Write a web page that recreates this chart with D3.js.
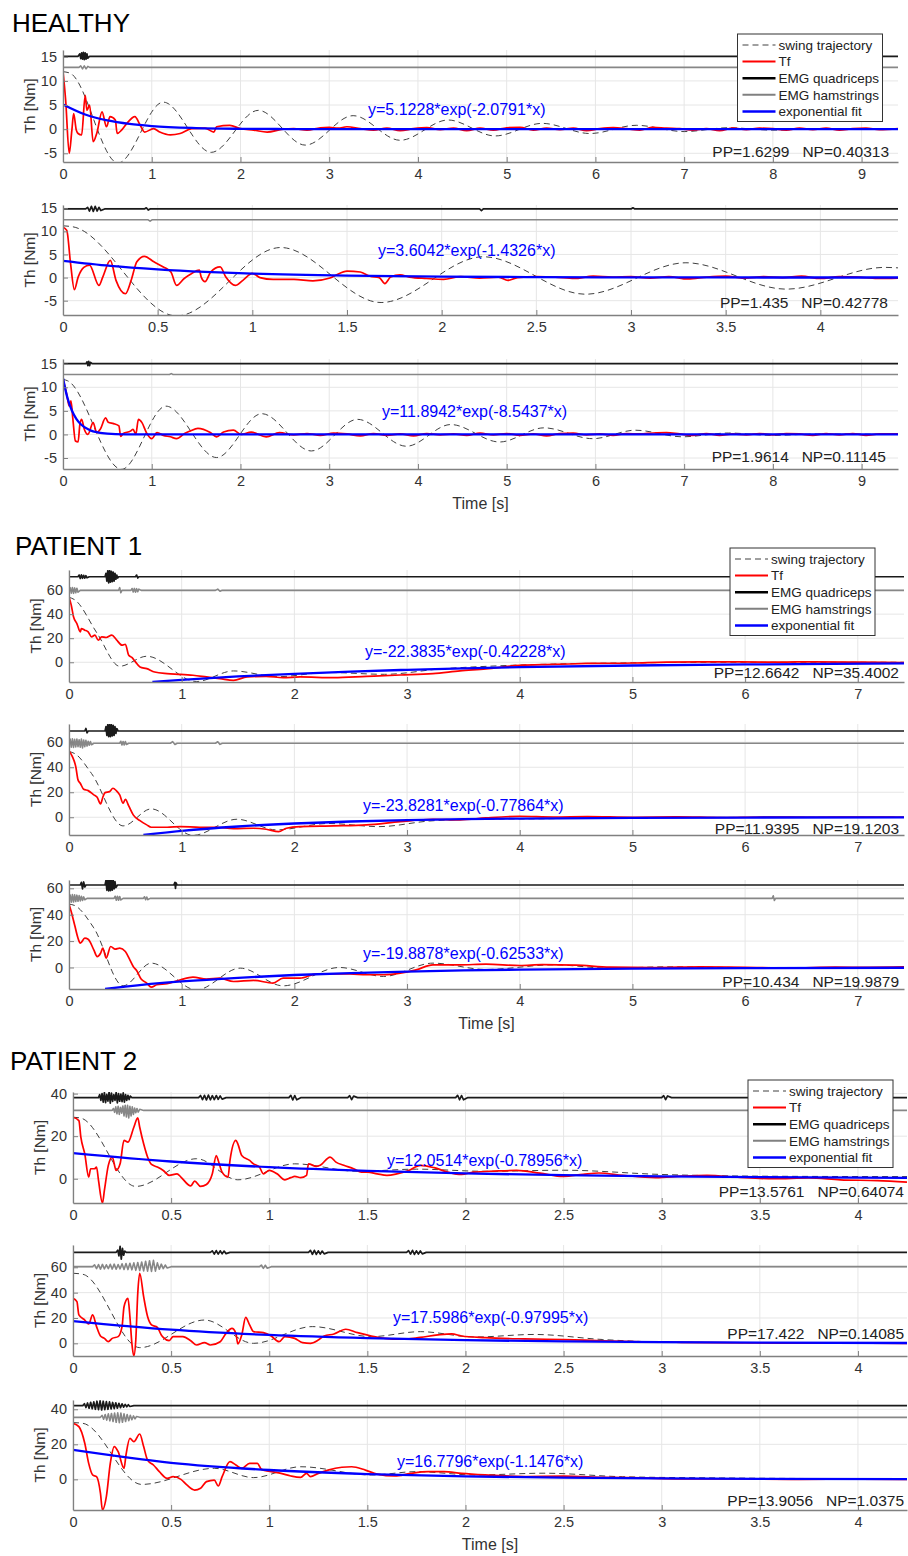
<!DOCTYPE html>
<html>
<head>
<meta charset="utf-8">
<script src="https://cdn.jsdelivr.net/npm/d3@7"></script>
<style>
body { margin: 0; background: #fff; }
text { font-family: "Liberation Sans", Arial, sans-serif; }
</style>
</head>
<body>
<script>
// ---- labels ----
var groupTitles = ["HEALTHY", "PATIENT 1", "PATIENT 2"];
var legendLabels = ["swing trajectory", "Tf", "EMG quadriceps", "EMG hamstrings", "exponential fit"];
var fitLabels = [
  "y=5.1228*exp(-2.0791*x)", "y=3.6042*exp(-1.4326*x)", "y=11.8942*exp(-8.5437*x)",
  "y=-22.3835*exp(-0.42228*x)", "y=-23.8281*exp(-0.77864*x)", "y=-19.8878*exp(-0.62533*x)",
  "y=12.0514*exp(-0.78956*x)", "y=17.5986*exp(-0.97995*x)", "y=16.7796*exp(-1.1476*x)"
];
var ppLabels = [
  ["1.6299", "0.40313"], ["1.435", "0.42778"], ["1.9614", "0.11145"],
  ["12.6642", "35.4002"], ["11.9395", "19.1203"], ["10.434", "19.9879"],
  ["13.5761", "0.64074"], ["17.422", "0.14085"], ["13.9056", "1.0375"]
];

// ---- tick values ----
var xTicksLong = [0, 1, 2, 3, 4, 5, 6, 7, 8, 9];
var xTicksHalf = [0, 0.5, 1, 1.5, 2, 2.5, 3, 3.5, 4];
var xTicksP1 = [0, 1, 2, 3, 4, 5, 6, 7];
var yTicksH = [-5, 0, 5, 10, 15];
var yTicksP1 = [0, 20, 40, 60];
var yTicks40 = [0, 20, 40];
var yTicks60 = [0, 20, 40, 60];

// ---- HEALTHY ----
var swingH1 = [[0,11.9],[0.08,11.6],[0.62,-7.0],[1.13,5.6],[1.67,-4.8],[2.2,3.9],[2.73,-3.3],[3.27,2.8],[3.8,-2.3],[4.34,1.9],[4.87,-1.4],[5.4,1.2],[5.94,-0.9],[6.46,0.8],[7.0,-0.5],[7.5,0.3],[8.0,-0.2],[8.5,0.1],[9.41,0]];
var tfH1 = [[0,12],[0.03,6],[0.07,-5.0],[0.1,-0.2],[0.12,3.2],[0.15,-0.2],[0.17,-0.9],[0.21,-1.2],[0.25,7.0],[0.27,3.9],[0.3,5.0],[0.34,-2.6],[0.38,-0.9],[0.44,3.6],[0.49,0.5],[0.53,2.6],[0.59,1.9],[0.61,-0.9],[0.66,-0.2],[0.72,1.2],[0.81,2.6],[0.87,0.8],[0.92,-0.6],[1.02,0.1],[1.09,-0.6],[1.21,-1.2],[1.32,-0.9],[1.45,0.1],[1.6,0.2],[1.7,-0.6],[1.73,0.5],[1.88,0.8],[2.0,0.1],[2.15,-0.2],[2.3,-0.6],[2.48,0],[2.6,0.1],[2.75,-0.2],[2.9,0.3],[3.0,0.4],[3.1,0.2],[3.2,0.5],[3.35,0.1],[3.5,-0.2],[3.65,0.2],[3.8,-0.3],[3.95,0.1],[4.1,0.3],[4.25,-0.1],[4.4,0.2],[4.55,-0.3],[4.7,0.2],[4.85,-0.2],[5.0,0.3],[5.15,0.4],[5.3,-0.2],[5.45,0.2],[5.6,-0.1],[5.75,0.2],[5.9,-0.3],[6.05,0.1],[6.2,0.3],[6.35,0.1],[6.5,-0.2],[6.65,0.4],[6.8,0.2],[6.95,0.1],[7.1,-0.2],[7.25,0.1],[7.4,-0.3],[7.55,0.2],[7.7,-0.1],[7.85,0.2],[8.0,0.1],[8.15,-0.2],[8.3,0.2],[8.45,-0.1],[8.6,0.2],[8.75,-0.2],[8.9,0.1],[9.05,0.2],[9.2,-0.1],[9.41,0.1]];
var emgQH1 = [[0,15.1],[0.17,15.1],[0.19,15.6],[0.2,14.6],[0.21,15.8],[0.22,14.5],[0.23,15.9],[0.24,14.4],[0.25,15.8],[0.26,14.5],[0.27,15.6],[0.28,14.7],[0.3,15.1],[9.41,15.1]];
var emgHH1 = [[0,12.8],[0.18,12.8],[0.2,13.1],[0.22,12.5],[0.24,13.1],[0.26,12.5],[0.28,13.0],[0.3,12.8],[9.41,12.8]];
var fitH1 = [[0,5.12],[0.25,3.04],[0.5,1.81],[0.75,1.08],[1,0.64],[1.5,0.23],[2,0.08],[2.5,0.03],[3,0.01],[9.41,0]];

var swingH2 = [[0,11.2],[0.05,11.0],[0.6,-8.3],[1.15,6.5],[1.68,-5.4],[2.22,4.5],[2.76,-3.6],[3.29,3.2],[3.82,-2.5],[4.34,2.2],[4.41,2.1]];
var tfH2 = [[0,10.9],[0.02,10.2],[0.04,3.0],[0.06,-2.6],[0.08,0.1],[0.11,2.2],[0.14,2.7],[0.19,-1.7],[0.21,0.1],[0.25,3.7],[0.28,-0.6],[0.33,-3.5],[0.36,-0.6],[0.39,3.4],[0.43,4.6],[0.48,3.4],[0.53,2.3],[0.57,1.2],[0.6,-1.7],[0.64,-0.2],[0.68,0.9],[0.72,1.6],[0.73,0.1],[0.75,-0.9],[0.78,1.2],[0.83,2.3],[0.86,0.1],[0.91,-1.7],[0.95,-0.6],[1.0,0.9],[1.04,0],[1.11,-0.4],[1.22,-0.4],[1.32,-0.7],[1.41,-0.1],[1.44,0.5],[1.5,1.4],[1.57,1.2],[1.62,0.3],[1.67,0],[1.7,-1.3],[1.73,0.1],[1.78,0.6],[1.83,0.1],[1.92,-0.2],[2.01,-0.4],[2.1,0.2],[2.2,-0.1],[2.3,0.1],[2.35,-0.6],[2.4,0],[2.5,0.2],[2.6,0.1],[2.7,-0.2],[2.8,0.3],[2.9,0.1],[3.0,0.2],[3.1,-0.1],[3.2,0.2],[3.3,-0.3],[3.4,0.1],[3.5,0.3],[3.6,-0.1],[3.7,0.2],[3.8,0],[3.9,0.3],[4.0,-0.2],[4.1,0.2],[4.2,0.1],[4.3,-0.2],[4.41,-0.1]];
var emgQH2 = [[0,14.85],[0.12,14.85],[0.13,15.2],[0.14,14.4],[0.15,15.4],[0.16,14.3],[0.17,15.4],[0.18,14.4],[0.19,15.2],[0.2,14.5],[0.22,14.85],[0.43,14.85],[0.44,15.1],[0.45,14.6],[0.46,14.85],[2.2,14.85],[2.21,14.5],[2.22,14.85],[3.0,14.85],[3.01,15.1],[3.02,14.85],[4.41,14.85]];
var emgHH2 = [[0,12.5],[0.45,12.5],[0.46,12.2],[0.47,12.5],[4.41,12.5]];
var fitH2 = [[0,3.6],[0.25,2.52],[0.5,1.77],[0.75,1.23],[1,0.86],[1.5,0.42],[2,0.2],[2.5,0.1],[3,0.05],[3.5,0.02],[4.41,0.01]];

var swingH3 = [[0,11.7],[0.05,11.4],[0.66,-7.4],[1.16,6.0],[1.73,-4.9],[2.24,4.4],[2.8,-3.5],[3.32,3.2],[3.87,-2.5],[4.37,2.1],[4.92,-1.6],[5.42,1.4],[5.97,-0.9],[6.45,0.9],[6.98,-0.5],[7.5,0.3],[8.0,-0.2],[8.5,0.1],[9.41,0]];
var tfH3 = [[0,11.7],[0.045,8.2],[0.07,6.0],[0.09,7.1],[0.11,3.5],[0.14,-1.4],[0.17,-1.6],[0.19,2.1],[0.21,3.2],[0.24,1.1],[0.28,0],[0.34,2.5],[0.38,0.4],[0.42,1.1],[0.48,3.5],[0.51,2.6],[0.57,2.3],[0.63,1.8],[0.65,-0.4],[0.68,0.2],[0.76,0.7],[0.79,1.1],[0.82,0],[0.85,3.2],[0.89,2.5],[0.94,0.4],[1.0,-0.9],[1.06,0.4],[1.13,-0.2],[1.21,-0.5],[1.28,-0.9],[1.37,0.2],[1.43,0.7],[1.52,1.3],[1.66,0.4],[1.73,-0.5],[1.81,0.5],[1.92,0.9],[2.01,0],[2.12,0.5],[2.29,-0.5],[2.44,0.4],[2.6,-0.1],[2.75,0.2],[2.9,-0.2],[3.05,0.3],[3.2,0.1],[3.35,-0.3],[3.5,0.2],[3.65,-0.2],[3.8,0.1],[3.95,-0.3],[4.1,0.2],[4.25,-0.1],[4.4,0.1],[4.55,-0.2],[4.7,0.3],[4.85,-0.1],[5.0,0.2],[5.15,-0.2],[5.3,0.1],[5.45,-0.3],[5.6,0.2],[5.75,0.3],[5.9,-0.1],[6.05,0.1],[6.2,-0.2],[6.35,0.2],[6.5,0.1],[6.65,0.3],[6.8,0.4],[6.95,0.1],[7.1,-0.2],[7.25,0.2],[7.4,-0.2],[7.55,0.1],[7.7,-0.1],[7.85,0.2],[8.0,-0.1],[8.15,0.2],[8.3,0.1],[8.45,-0.2],[8.6,0.2],[8.75,-0.1],[8.9,0.2],[9.05,-0.2],[9.2,0.1],[9.41,0.1]];
var emgQH3 = [[0,15.0],[0.26,15.0],[0.27,15.4],[0.28,14.6],[0.29,15.5],[0.3,14.6],[0.31,15.3],[0.33,15.0],[9.41,15.0]];
var emgHH3 = [[0,12.7],[1.2,12.7],[1.22,12.9],[1.24,12.7],[9.41,12.7]];
var fitH3 = [[0,11.9],[0.05,7.75],[0.1,5.07],[0.15,3.3],[0.2,2.15],[0.3,0.92],[0.4,0.39],[0.5,0.17],[0.7,0.03],[1,0],[9.41,0]];

// ---- PATIENT 1 ----
var swingP1a = [[0,54],[0.05,52],[0.25,24],[0.45,-3.3],[0.69,5],[1.13,-16],[1.46,-7.2],[1.85,-12],[2.3,-8.5],[2.8,-10],[3.3,-5.5],[3.8,-3],[4.3,-1.5],[5,-0.5],[6,0],[7.41,0]];
var tfP1a = [[0,54],[0.02,47.5],[0.04,37.8],[0.07,32.2],[0.1,25.3],[0.11,28],[0.14,26.7],[0.17,25.3],[0.2,21.1],[0.23,22.5],[0.26,18.3],[0.29,21.1],[0.33,20.6],[0.38,22.5],[0.42,18.9],[0.47,14.2],[0.5,15],[0.53,5.8],[0.56,3.9],[0.59,0.3],[0.63,-3.9],[0.69,-5.3],[0.76,-8.1],[0.87,-9.4],[0.99,-10],[1.1,-10.8],[1.22,-12.2],[1.34,-13.6],[1.46,-15],[1.58,-12.2],[1.75,-11.7],[1.9,-12.8],[2.05,-12.2],[2.35,-12.8],[2.64,-11.7],[2.94,-10.6],[3.23,-9.4],[3.47,-7.2],[3.7,-5.5],[4.0,-2.5],[4.3,-1.8],[4.6,-1.0],[5.0,-0.6],[5.3,0.2],[5.6,0.4],[5.95,0.3],[6.3,0.1],[6.6,0.4],[7.0,0.1],[7.41,-0.3]];
var emgQP1a = [[0,71.1],[0.08,71.1],[0.09,72.5],[0.1,69.6],[0.11,72.6],[0.12,69.8],[0.13,72.2],[0.14,70],[0.15,72],[0.16,70.2],[0.18,71.1],[0.32,71.1],[0.328,74],[0.336,67.5],[0.344,76],[0.352,66],[0.36,76.5],[0.368,66.5],[0.376,75.5],[0.384,67],[0.392,75],[0.4,67.5],[0.408,74],[0.416,69],[0.424,72.5],[0.432,70],[0.44,71.1],[0.59,71.1],[0.6,72.5],[0.61,70],[0.62,71.1],[7.41,71.1]];
var emgHP1a = [[0,59.8],[0.01,62],[0.02,57.5],[0.03,62.2],[0.04,57.3],[0.05,61.8],[0.06,57.8],[0.07,61.5],[0.08,58.2],[0.1,59.8],[0.44,59.8],[0.45,62],[0.46,57.8],[0.47,59.8],[0.55,59.8],[0.56,61.3],[0.57,58.4],[0.58,61.4],[0.59,58.3],[0.6,61.2],[0.61,58.6],[0.62,60.8],[0.64,59.8],[1.3,59.8],[1.32,60.8],[1.34,59],[1.36,59.8],[7.41,59.8]];
var fitP1a = [[0.74,-16.4],[1,-14.6],[1.5,-11.8],[2,-9.6],[2.5,-7.7],[3,-6.3],[3.5,-5.1],[4,-4.1],[5,-2.7],[6,-1.8],[7.41,-1.0]];

var swingP1b = [[0,52.5],[0.05,51],[0.2,35],[0.48,-6.9],[0.73,6.7],[1.1,-14.5],[1.49,-1.6],[1.84,-10.1],[2.3,-5],[2.75,-7.5],[3.2,-3],[3.6,-1.5],[4.2,-1.2],[5,-0.3],[7.41,0]];
var tfP1b = [[0,53.3],[0.03,48.5],[0.06,40.5],[0.08,29.9],[0.1,27.2],[0.13,22.4],[0.17,21.3],[0.22,17.9],[0.25,16],[0.28,10.7],[0.3,16],[0.32,19.7],[0.36,20.5],[0.39,23.2],[0.42,21.3],[0.45,17.9],[0.48,11.2],[0.5,14.4],[0.53,9.1],[0.57,1.9],[0.63,-2.7],[0.69,-6.1],[0.73,-8],[0.87,-8],[0.99,-7.5],[1.16,-8],[1.31,-8],[1.46,-9.1],[1.64,-8.8],[1.75,-9.6],[1.86,-11.5],[1.93,-8.8],[2.05,-7.5],[2.35,-6.9],[2.64,-6.1],[2.94,-3.5],[3.23,-1.6],[3.47,-2.1],[3.7,-0.5],[4.0,0.8],[4.3,0.2],[4.6,0.5],[5.0,0],[5.4,0.3],[5.8,-0.2],[6.2,0.2],[6.6,0],[7.0,0.2],[7.41,0]];
var emgQP1b = [[0,69],[0.14,69],[0.15,71],[0.16,67.5],[0.17,69],[0.32,69],[0.328,72.5],[0.336,65.5],[0.344,74],[0.352,64.5],[0.36,74.5],[0.368,64.5],[0.376,74],[0.384,65],[0.392,73.5],[0.4,65.5],[0.408,72.5],[0.416,67],[0.424,71],[0.435,69],[7.41,69]];
var emgHP1b = [[0,59.2],[0.01,62.5],[0.02,56],[0.03,62.8],[0.04,55.8],[0.05,62.4],[0.06,56.2],[0.07,62.6],[0.08,56.5],[0.09,62],[0.1,56],[0.11,62.5],[0.12,55.5],[0.13,61.8],[0.14,56.5],[0.15,61.5],[0.16,57],[0.17,60.8],[0.18,57.6],[0.19,60.5],[0.2,58],[0.22,59.2],[0.45,59.2],[0.46,60.8],[0.47,57.8],[0.48,60.6],[0.49,57.8],[0.5,60.5],[0.51,58.2],[0.53,59.2],[0.9,59.2],[0.92,60.5],[0.94,58.2],[0.96,59.2],[1.3,59.2],[1.32,60.4],[1.34,58.3],[1.36,59.2],[7.41,59.2]];
var fitP1b = [[0.66,-14.2],[1,-10.9],[1.5,-7.4],[2,-5.0],[2.5,-3.4],[3,-2.3],[3.5,-1.56],[4,-1.06],[5,-0.49],[6,-0.22],[7.41,-0.07]];

var swingP1c = [[0,48],[0.05,47],[0.22,30],[0.48,-13.9],[0.73,3.3],[1.13,-17],[1.52,-0.5],[1.9,-13.9],[2.4,0],[2.79,-6.8],[3.23,3.3],[3.7,-1.5],[4.3,2],[4.8,-0.5],[5.3,0.5],[6,0],[7.41,0]];
var tfP1c = [[0,48],[0.02,42.3],[0.05,32.2],[0.08,22.2],[0.1,18.4],[0.14,22.2],[0.17,21.4],[0.22,13.4],[0.25,8.3],[0.28,10.8],[0.3,14.6],[0.33,7.1],[0.37,15.9],[0.41,13.9],[0.45,14.6],[0.5,12.1],[0.54,5.8],[0.57,0.8],[0.6,-2.3],[0.64,-8.8],[0.69,-11.8],[0.73,-14.9],[0.78,-13.1],[0.87,-12.3],[0.99,-9.3],[1.1,-7.3],[1.22,-8.8],[1.34,-8.1],[1.46,-10.6],[1.64,-9.8],[1.81,-11.8],[1.9,-8.1],[2.05,-8.1],[2.2,-4.8],[2.35,-4.8],[2.49,-4.8],[2.64,-5.5],[2.79,-5.5],[2.94,-4.3],[3.08,-1.8],[3.23,2.0],[3.47,2.0],[3.7,2.5],[4.0,1.5],[4.2,2.2],[4.5,1.8],[4.8,0.3],[5.2,0],[5.6,0.5],[6.0,0.2],[6.4,-0.3],[6.8,0.3],[7.1,0.1],[7.41,0.4]];
var emgQP1c = [[0,62.5],[0.1,62.5],[0.11,64.5],[0.12,59.5],[0.13,64.8],[0.14,61],[0.15,62.5],[0.32,62.5],[0.328,66],[0.336,58.5],[0.344,67],[0.352,58],[0.36,67],[0.368,58.2],[0.376,66.5],[0.384,58.6],[0.392,66],[0.4,59.5],[0.408,65],[0.416,60.5],[0.43,62.5],[0.93,62.5],[0.94,64.5],[0.945,60],[0.95,64.2],[0.96,62.5],[7.41,62.5]];
var emgHP1c = [[0,52.4],[0.01,55],[0.02,49.5],[0.03,55.2],[0.04,49.6],[0.05,55],[0.06,50],[0.07,54.8],[0.08,50.2],[0.09,54.5],[0.1,50.5],[0.11,54],[0.12,50.8],[0.13,53.5],[0.14,51.3],[0.16,52.4],[0.4,52.4],[0.41,54],[0.42,51],[0.43,54],[0.44,51],[0.45,53.8],[0.46,51.2],[0.48,52.4],[0.66,52.4],[0.67,53.6],[0.68,51.3],[0.69,53.4],[0.7,51.4],[0.72,52.4],[6.24,52.4],[6.25,54.3],[6.26,50.8],[6.27,52.4],[7.41,52.4]];
var fitP1c = [[0.32,-16.3],[0.5,-14.5],[1,-10.6],[1.5,-7.8],[2,-5.7],[2.5,-4.2],[3,-3.1],[3.5,-2.2],[4,-1.6],[5,-0.87],[6,-0.47],[7.41,-0.19]];

// ---- PATIENT 2 ----
var swingP2a = [[0,28.9],[0.04,28.5],[0.32,-3.6],[0.63,9.4],[0.84,-0.5],[1.13,7.0],[1.45,3.5],[1.75,4.5],[2.1,3.5],[2.5,4],[3,2],[3.5,1.2],[4.25,1]];
var tfP2a = [[0,28.9],[0.03,27.3],[0.04,19.5],[0.06,11.7],[0.08,0.8],[0.09,4.7],[0.11,4.7],[0.12,5.5],[0.13,-0.8],[0.15,-11.4],[0.16,-5.5],[0.18,6.3],[0.2,10.2],[0.22,3.9],[0.24,7.0],[0.26,18],[0.28,17.2],[0.31,24.2],[0.33,28.6],[0.34,24.2],[0.36,16.4],[0.38,10.2],[0.4,6.7],[0.43,5.5],[0.46,3.9],[0.49,1.6],[0.53,2.3],[0.55,0.8],[0.6,-3.4],[0.62,-1.1],[0.65,-3.6],[0.68,-2.7],[0.71,2.3],[0.73,10.9],[0.74,8.6],[0.76,3.1],[0.79,0.8],[0.8,8.6],[0.83,18],[0.84,16.4],[0.86,10.9],[0.9,8.6],[0.92,7.0],[0.95,5.5],[0.97,2.3],[1.0,3.9],[1.04,2.3],[1.08,-0.5],[1.11,0.5],[1.13,1.1],[1.16,0.5],[1.19,1.6],[1.2,7.0],[1.24,5.8],[1.26,6.3],[1.31,10.2],[1.34,7.8],[1.38,6.3],[1.43,4.7],[1.47,3.1],[1.5,3.1],[1.55,2.3],[1.6,1.6],[1.65,2.3],[1.71,3.9],[1.77,6.3],[1.84,5.2],[1.91,3.1],[1.98,2.0],[2.04,3.1],[2.15,3.6],[2.26,3.9],[2.38,2.6],[2.5,1.1],[2.6,2.1],[2.68,2.7],[2.8,1.6],[2.97,0.5],[3.1,1.2],[3.23,1.6],[3.4,0.6],[3.57,0],[3.75,0.4],[3.91,-0.5],[4.1,-0.9],[4.25,-1.6]];
var emgQP2a = [[0,38.1],[0.13,38.1],[0.136,39.5],[0.142,36.8],[0.148,40],[0.154,36],[0.16,40.5],[0.166,35.8],[0.172,39.6],[0.178,36.5],[0.184,40.8],[0.19,35.5],[0.196,40.2],[0.202,36.3],[0.208,39.5],[0.214,36.8],[0.22,40.6],[0.226,35.6],[0.232,40],[0.238,36.4],[0.244,39.8],[0.25,36.2],[0.256,40.3],[0.262,36],[0.268,39.5],[0.274,36.8],[0.28,39.2],[0.286,37.2],[0.292,38.8],[0.3,38.1],[0.64,38.1],[0.65,39.1],[0.66,37.2],[0.67,39.2],[0.68,37],[0.69,39.3],[0.7,37.1],[0.71,39],[0.72,37.2],[0.73,39.1],[0.74,37.3],[0.75,38.9],[0.76,37.4],[0.78,38.1],[1.1,38.1],[1.11,39.2],[1.12,37],[1.13,39.1],[1.14,37.1],[1.16,38.1],[1.4,38.1],[1.41,39],[1.42,37.2],[1.43,38.8],[1.45,38.1],[1.95,38.1],[1.96,39.2],[1.97,37.1],[1.98,39.1],[1.99,37.1],[2.01,38.1],[3.0,38.1],[3.01,39],[3.02,37.2],[3.03,38.9],[3.05,38.1],[4.25,38.1]];
var emgHP2a = [[0,32.1],[0.2,32.1],[0.206,33],[0.212,31.2],[0.218,33.8],[0.224,30.5],[0.23,34],[0.236,30.2],[0.242,33.5],[0.248,30.8],[0.254,34.2],[0.26,29.5],[0.266,34.5],[0.272,29],[0.278,34.5],[0.284,28.6],[0.29,34],[0.296,29.5],[0.302,33.8],[0.308,30.2],[0.314,33.2],[0.32,31],[0.326,33],[0.332,31.3],[0.34,32.6],[0.36,32.1],[4.25,32.1]];
var fitP2a = [[0,12.05],[0.5,8.1],[1,5.45],[1.5,3.68],[2,2.48],[2.5,1.67],[3,1.13],[3.5,0.76],[4.25,0.42]];

var swingP2b = [[0,55.3],[0.05,54.5],[0.34,-3.4],[0.67,18.4],[0.92,0],[1.22,13.2],[1.52,5.3],[1.77,9.2],[2.05,5],[2.35,7],[2.7,3],[3,1],[3.5,0.5],[4.25,0]];
var tfP2b = [[0,35.5],[0.02,32.9],[0.03,22.4],[0.06,18.4],[0.08,15.3],[0.1,22.4],[0.12,13.2],[0.14,5.8],[0.16,3.9],[0.18,1.3],[0.2,3.9],[0.23,5.3],[0.25,13.2],[0.26,28.9],[0.28,35.5],[0.29,21.1],[0.3,0],[0.31,-10],[0.32,2.6],[0.33,39.5],[0.34,55.3],[0.36,36.8],[0.38,21.1],[0.4,14.5],[0.43,12.6],[0.45,6.6],[0.46,4.7],[0.49,2.1],[0.51,5.3],[0.56,5.3],[0.6,2.1],[0.63,-1.3],[0.67,0.5],[0.7,-1.3],[0.75,1.3],[0.78,7.9],[0.81,11.8],[0.83,7.9],[0.84,-0.5],[0.86,6.6],[0.88,20.5],[0.9,14.5],[0.92,9.2],[0.97,8.4],[1.01,5.8],[1.05,1.3],[1.08,5.3],[1.13,3.9],[1.17,0.5],[1.21,0],[1.25,2.6],[1.28,5.8],[1.33,7.4],[1.39,11.1],[1.45,8.4],[1.52,5.8],[1.59,3.9],[1.67,3.2],[1.77,4.7],[1.86,6.6],[1.93,7.4],[1.98,5.8],[2.1,4.5],[2.3,3.5],[2.5,3.0],[2.7,2.0],[2.9,1.2],[3.1,0.8],[3.3,0.5],[3.6,0.2],[3.9,0.1],[4.25,0]];
var emgQP2b = [[0,71.8],[0.22,71.8],[0.228,73.5],[0.234,69],[0.24,76.5],[0.246,66.5],[0.252,75],[0.258,69.5],[0.264,72.8],[0.272,71.8],[0.7,71.8],[0.71,73],[0.72,70.5],[0.73,73.2],[0.74,70.4],[0.75,73],[0.76,70.6],[0.77,72.8],[0.78,70.8],[0.8,71.8],[1.2,71.8],[1.21,73.3],[1.22,70.3],[1.23,73.4],[1.24,70.2],[1.25,73],[1.26,70.5],[1.27,72.8],[1.28,70.6],[1.3,71.8],[1.7,71.8],[1.71,73.2],[1.72,70.4],[1.73,73.4],[1.74,70.2],[1.75,73],[1.76,70.5],[1.77,72.9],[1.78,70.6],[1.8,71.8],[4.25,71.8]];
var emgHP2b = [[0,60.5],[0.1,60.5],[0.11,62],[0.12,59],[0.13,62.2],[0.14,58.6],[0.15,62.3],[0.16,58.8],[0.17,62],[0.18,59],[0.19,62.4],[0.2,58.6],[0.21,62.5],[0.22,58.5],[0.23,62.2],[0.24,58.8],[0.25,62.8],[0.26,58.3],[0.27,63],[0.28,58.2],[0.29,63.2],[0.3,58],[0.31,63.5],[0.32,57.6],[0.33,63.8],[0.34,57.5],[0.35,64.2],[0.36,57.2],[0.37,64.8],[0.38,57],[0.39,65.2],[0.4,56.8],[0.41,65.5],[0.42,57],[0.43,63.5],[0.44,58.5],[0.45,62.5],[0.46,59],[0.47,61.8],[0.48,59.5],[0.5,60.5],[0.95,60.5],[0.96,61.8],[0.97,59.2],[0.98,61.6],[0.99,59.3],[1.01,60.5],[4.25,60.5]];
var fitP2b = [[0,17.6],[0.5,10.8],[1,6.6],[1.5,4.04],[2,2.48],[2.5,1.52],[3,0.93],[3.5,0.57],[4.25,0.27]];

var swingP2c = [[0,32.4],[0.05,32],[0.35,-2.9],[0.72,6.3],[0.92,1.0],[1.16,7.2],[1.52,2.5],[1.75,4.4],[2.05,2.5],[2.4,3.5],[2.8,1.5],[3.3,0.8],[4.25,0.3]];
var tfP2c = [[0,32],[0.03,30.1],[0.06,20.6],[0.08,9.1],[0.1,2.5],[0.12,1.5],[0.14,-8],[0.15,-17.5],[0.17,-9.9],[0.19,9.1],[0.21,18.7],[0.23,15.8],[0.26,6.3],[0.27,13.9],[0.29,23.4],[0.31,21.5],[0.34,25.9],[0.36,18.7],[0.38,11],[0.41,8.2],[0.44,4.4],[0.48,0.6],[0.51,1.5],[0.55,0],[0.58,-3.2],[0.62,-6.1],[0.65,-5.1],[0.68,-1.3],[0.72,-0.4],[0.74,-3.8],[0.76,1.5],[0.8,10.1],[0.83,8.2],[0.86,6.3],[0.9,9.1],[0.94,9.1],[0.96,5.7],[1.01,4.4],[1.06,3.4],[1.11,1.9],[1.16,1.1],[1.19,3.4],[1.21,1.5],[1.25,3.4],[1.3,5.3],[1.37,6.9],[1.42,7.2],[1.49,5.3],[1.55,3.0],[1.64,1.9],[1.72,3.4],[1.81,4.4],[1.89,4.4],[1.98,3.4],[2.1,2.5],[2.3,1.6],[2.5,1.8],[2.7,1.2],[2.9,0.8],[3.1,0.3],[3.4,0.2],[3.7,0],[4.0,0.1],[4.25,0]];
var emgQP2c = [[0,42.1],[0.05,42.1],[0.058,43.2],[0.066,41],[0.074,43.6],[0.082,40.6],[0.09,44],[0.098,40.3],[0.106,44.2],[0.114,40],[0.122,44.6],[0.13,39.8],[0.138,44.8],[0.146,39.6],[0.154,44.6],[0.162,39.8],[0.17,44.4],[0.178,40],[0.186,44.2],[0.194,40.2],[0.202,43.9],[0.21,40.4],[0.218,43.7],[0.226,40.6],[0.234,43.4],[0.242,40.9],[0.25,43.1],[0.258,41.2],[0.266,42.8],[0.274,41.4],[0.282,42.6],[0.29,41.6],[0.31,42.1],[4.25,42.1]];
var emgHP2c = [[0,35.4],[0.14,35.4],[0.148,36.5],[0.156,34.3],[0.164,37],[0.172,33.8],[0.18,37.4],[0.188,33.4],[0.196,37.6],[0.204,33],[0.212,37.8],[0.22,32.6],[0.228,38],[0.236,32.4],[0.244,37.8],[0.252,32.6],[0.26,37.4],[0.268,33],[0.276,37],[0.284,33.5],[0.292,36.6],[0.3,34],[0.308,36.2],[0.316,34.5],[0.324,35.9],[0.34,35.4],[4.25,35.4]];
var fitP2c = [[0,16.78],[0.5,9.45],[1,5.33],[1.5,3.0],[2,1.69],[2.5,0.95],[3,0.54],[3.5,0.3],[4.25,0.13]];

// ---- layout (pixels) ----
var panels = [
  {left:63, right:898, top:50, bottom:162, xMax:9.41, yDom:[-6.8,16.4], xT:xTicksLong, yT:yTicksH,
   swing:swingH1, tf:tfH1, q:emgQH1, h:emgHH1, fit:fitH1, fitAt:[368,115], ppAt:[889,156.5]},
  {left:63, right:898, top:205, bottom:315, xMax:4.41, yDom:[-8.1,15.7], xT:xTicksHalf, yT:yTicksH,
   swing:swingH2, tf:tfH2, q:emgQH2, h:emgHH2, fit:fitH2, fitAt:[378,256], ppAt:[888,308]},
  {left:63, right:898, top:359, bottom:469, xMax:9.41, yDom:[-7.33,16.0], xT:xTicksLong, yT:yTicksH,
   swing:swingH3, tf:tfH3, q:emgQH3, h:emgHH3, fit:fitH3, fitAt:[382,417], ppAt:[886,461.5]},
  {left:69, right:904, top:570, bottom:682, xMax:7.41, yDom:[-16.4,76.7], xT:xTicksP1, yT:yTicksP1,
   swing:swingP1a, tf:tfP1a, q:emgQP1a, h:emgHP1a, fit:fitP1a, fitAt:[365,657], ppAt:[899,678]},
  {left:69, right:904, top:724, bottom:835, xMax:7.41, yDom:[-14.2,74.6], xT:xTicksP1, yT:yTicksP1,
   swing:swingP1b, tf:tfP1b, q:emgQP1b, h:emgHP1b, fit:fitP1b, fitAt:[363,810.5], ppAt:[899,834]},
  {left:69, right:904, top:880, bottom:989, xMax:7.41, yDom:[-16.3,66.3], xT:xTicksP1, yT:yTicksP1,
   swing:swingP1c, tf:tfP1c, q:emgQP1c, h:emgHP1c, fit:fitP1c, fitAt:[363,959], ppAt:[899,987]},
  {left:73, right:907, top:1092, bottom:1203, xMax:4.25, yDom:[-11.4,40.75], xT:xTicksHalf, yT:yTicks40,
   swing:swingP2a, tf:tfP2a, q:emgQP2a, h:emgHP2a, fit:fitP2a, fitAt:[387,1166], ppAt:[904,1197]},
  {left:73, right:907, top:1245, bottom:1356, xMax:4.25, yDom:[-10,77.6], xT:xTicksHalf, yT:yTicks60,
   swing:swingP2b, tf:tfP2b, q:emgQP2b, h:emgHP2b, fit:fitP2b, fitAt:[393,1323], ppAt:[904,1339]},
  {left:73, right:907, top:1400, bottom:1510, xMax:4.25, yDom:[-17.5,45.3], xT:xTicksHalf, yT:yTicks40,
   swing:swingP2c, tf:tfP2c, q:emgQP2c, h:emgHP2c, fit:fitP2c, fitAt:[397,1466.5], ppAt:[904,1506]}
];
var titles = [{x:12, y:31.5}, {x:15, y:555}, {x:10, y:1070}];
var legends = [{x:737.5, y:34}, {x:730, y:548}, {x:748, y:1080}];
var legendStyle = [
  {color:"#404040", w:1, dash:"6,4"},
  {color:"#ff0000", w:2},
  {color:"#000000", w:2.5},
  {color:"#808080", w:2},
  {color:"#0000ff", w:2.5}
];

var svg = d3.select("body").append("svg")
  .attr("width", 908)
  .attr("height", 1556);

var fmt = function(d) { return String(d); };

panels.forEach(function(p, i) {
  var x = d3.scaleLinear().domain([0, p.xMax]).range([p.left, p.right]);
  var y = d3.scaleLinear().domain(p.yDom).range([p.bottom, p.top]);
  var g = svg.append("g");

  // grid
  g.selectAll(null).data(p.xT).enter().append("line")
    .attr("x1", function(d){return x(d)}).attr("x2", function(d){return x(d)})
    .attr("y1", p.top).attr("y2", p.bottom)
    .attr("stroke", "#e6e6e6").attr("stroke-width", 1);
  g.selectAll(null).data(p.yT).enter().append("line")
    .attr("x1", p.left).attr("x2", p.right)
    .attr("y1", function(d){return y(d)}).attr("y2", function(d){return y(d)})
    .attr("stroke", "#e6e6e6").attr("stroke-width", 1);

  svg.append("clipPath").attr("id", "clip" + i)
    .append("rect").attr("x", p.left).attr("y", p.top)
    .attr("width", p.right - p.left).attr("height", p.bottom - p.top);
  var plot = g.append("g").attr("clip-path", "url(#clip" + i + ")");

  var smooth = d3.line().x(function(d){return x(d[0])}).y(function(d){return y(d[1])}).curve(d3.curveMonotoneX);
  var straight = d3.line().x(function(d){return x(d[0])}).y(function(d){return y(d[1])});

  plot.append("path").datum(p.swing).attr("d", smooth)
    .attr("fill", "none").attr("stroke", "#404040").attr("stroke-width", 1).attr("stroke-dasharray", "6,4");
  plot.append("path").datum(p.q).attr("d", straight)
    .attr("fill", "none").attr("stroke", "#1a1a1a").attr("stroke-width", 1.7)
    .attr("stroke-linejoin", "round");
  plot.append("path").datum(p.h).attr("d", straight)
    .attr("fill", "none").attr("stroke", "#878787").attr("stroke-width", 1.6)
    .attr("stroke-linejoin", "round");
  plot.append("path").datum(p.tf).attr("d", smooth)
    .attr("fill", "none").attr("stroke", "#ff0000").attr("stroke-width", 1.7);
  plot.append("path").datum(p.fit).attr("d", smooth)
    .attr("fill", "none").attr("stroke", "#0000ff").attr("stroke-width", 2.3);

  // axes
  var xAxis = d3.axisBottom(x).tickValues(p.xT).tickFormat(fmt)
    .tickSizeInner(-5).tickSizeOuter(0).tickPadding(7);
  var yAxis = d3.axisLeft(y).tickValues(p.yT).tickFormat(fmt)
    .tickSizeInner(-5).tickSizeOuter(0).tickPadding(6);
  var xg = g.append("g").attr("transform", "translate(0," + p.bottom + ")").call(xAxis);
  var yg = g.append("g").attr("transform", "translate(" + p.left + ",0)").call(yAxis);
  [xg, yg].forEach(function(a) {
    a.select(".domain").attr("stroke", "#808080").attr("stroke-width", 1.3);
    a.selectAll(".tick line").attr("stroke", "#808080");
    a.selectAll(".tick text").attr("fill", "#333").style("font-size", "14.5px")
      .style("font-family", "'Liberation Sans', Arial, sans-serif");
  });

  g.append("text")
    .attr("transform", "translate(" + (p.left - 28) + "," + ((p.top + p.bottom) / 2) + ") rotate(-90)")
    .attr("text-anchor", "middle").attr("fill", "#333").style("font-size", "15.5px")
    .text("Th [Nm]");

  g.append("text").attr("x", p.fitAt[0]).attr("y", p.fitAt[1])
    .attr("fill", "#0000ff").style("font-size", "16px").text(fitLabels[i]);
  g.append("text").attr("x", p.ppAt[0]).attr("y", p.ppAt[1])
    .attr("text-anchor", "end").attr("fill", "#222").style("font-size", "15.5px")
    .text("PP=" + ppLabels[i][0] + "\u00a0\u00a0\u00a0NP=" + ppLabels[i][1]);

  if (i % 3 == 2) {
    g.append("text").attr("x", (p.left + p.right) / 2).attr("y", p.bottom + 40)
      .attr("text-anchor", "middle").attr("fill", "#333").style("font-size", "16px")
      .text("Time [s]");
  }
});

titles.forEach(function(t, i) {
  svg.append("text").attr("x", t.x).attr("y", t.y)
    .attr("fill", "#000").style("font-size", "26px").text(groupTitles[i]);
});

legends.forEach(function(L) {
  var lg = svg.append("g").attr("transform", "translate(" + L.x + "," + L.y + ")");
  lg.append("rect").attr("width", 145).attr("height", 87.5)
    .attr("fill", "#fff").attr("stroke", "#333").attr("stroke-width", 1);
  legendLabels.forEach(function(lab, k) {
    var cy = 11 + k * 16.6;
    var s = legendStyle[k];
    lg.append("line").attr("x1", 5).attr("x2", 38).attr("y1", cy).attr("y2", cy)
      .attr("stroke", s.color).attr("stroke-width", s.w)
      .attr("stroke-dasharray", s.dash || null);
    lg.append("text").attr("x", 41).attr("y", cy).attr("dy", "0.36em")
      .attr("fill", "#222").style("font-size", "13.5px").text(lab);
  });
});
</script>
</body>
</html>
